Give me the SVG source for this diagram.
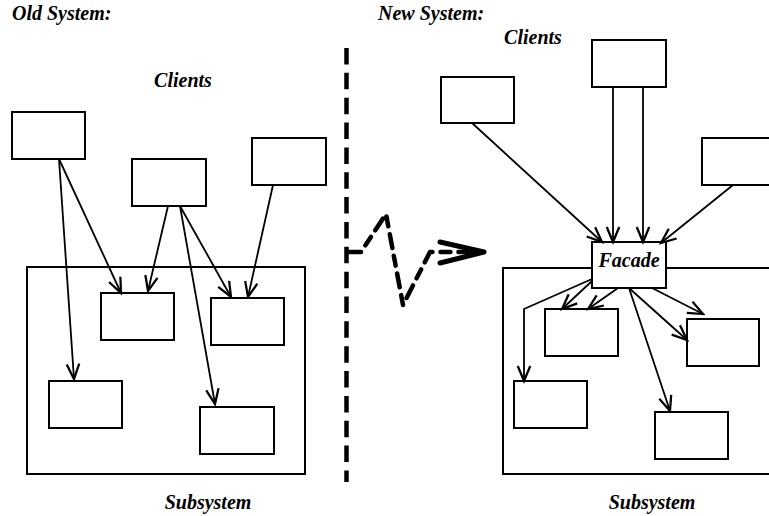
<svg xmlns="http://www.w3.org/2000/svg" width="769" height="516" viewBox="0 0 769 516">
<style>
.box{fill:#fff;stroke:#000;stroke-width:2}
.frame{fill:none;stroke:#000;stroke-width:2}
.t{font-family:"Liberation Serif","Times New Roman",serif;font-weight:bold;font-style:italic;font-size:20px;fill:#000}
.c{fill:none;stroke:#000;stroke-width:1.8;marker-end:url(#arr)}
</style>
<defs>
<marker id="arr" markerUnits="userSpaceOnUse" markerWidth="20" markerHeight="20" viewBox="-14 -7 16 14" refX="0" refY="0" orient="auto">
<path d="M-12,-5 L0,0 L-12,5" fill="none" stroke="#000" stroke-width="1.8"/>
</marker>
</defs>
<rect width="769" height="516" fill="#fff"/>

<text class="t" x="12" y="20">Old System:</text>
<text class="t" x="378" y="20">New System:</text>
<text class="t" x="183" y="87" text-anchor="middle">Clients</text>
<text class="t" x="533" y="44" text-anchor="middle">Clients</text>
<text class="t" x="208" y="509" text-anchor="middle">Subsystem</text>
<text class="t" x="652" y="509" text-anchor="middle">Subsystem</text>

<g id="old-subsystem"><rect class="frame" x="27" y="267" width="278" height="207"/></g>
<g id="new-subsystem"><rect class="frame" x="503" y="268" width="280" height="206"/></g>

<g id="old-client-1"><rect class="box" x="12" y="112" width="73" height="47"/></g>
<g id="old-client-2"><rect class="box" x="132" y="159" width="74" height="47"/></g>
<g id="old-client-3"><rect class="box" x="252" y="138" width="74" height="47"/></g>
<g id="old-sub-a"><rect class="box" x="101" y="293" width="73" height="47"/></g>
<g id="old-sub-b"><rect class="box" x="211" y="298" width="73" height="47"/></g>
<g id="old-sub-c"><rect class="box" x="49" y="381" width="73" height="47"/></g>
<g id="old-sub-d"><rect class="box" x="200" y="407" width="74" height="47"/></g>

<g id="new-client-1"><rect class="box" x="441" y="77" width="73" height="46"/></g>
<g id="new-client-2"><rect class="box" x="592" y="40" width="74" height="47"/></g>
<g id="new-client-3"><rect class="box" x="702" y="138" width="74" height="47"/></g>
<g id="new-sub-a"><rect class="box" x="545" y="309" width="73" height="47"/></g>
<g id="new-sub-b"><rect class="box" x="687" y="319" width="72" height="47"/></g>
<g id="new-sub-c"><rect class="box" x="514" y="381" width="73" height="47"/></g>
<g id="new-sub-d"><rect class="box" x="655" y="412" width="73" height="47"/></g>
<g id="facade"><rect class="box" x="592" y="242" width="74" height="46"/><text class="t" x="629" y="267" text-anchor="middle">Facade</text></g>

<g id="divider">
<line x1="346.5" y1="48" x2="346.5" y2="482" stroke="#000" stroke-width="4.5" stroke-dasharray="16.5 8.35"/>
<path d="M347,252 L361,252 L386,214 L403,305 L430,252 L484,252" fill="none" stroke="#000" stroke-width="4.5" stroke-linecap="round" stroke-linejoin="round" stroke-dasharray="14 8 10 8"/>
<path d="M440,242 L484,252 L440,263" fill="none" stroke="#000" stroke-width="5" stroke-linecap="round" stroke-linejoin="round"/>
</g>

<g id="connectors">
<path class="c" d="M59,159 L121,293"/>
<path class="c" d="M59,159 L74,379"/>
<path class="c" d="M168,206 L148,291"/>
<path class="c" d="M180,206 L231,297"/>
<path class="c" d="M180,206 L215,404"/>
<path class="c" d="M273,185 L248,297"/>

<path class="c" d="M472,123 L602,242"/>
<path class="c" d="M613,87 L613,242"/>
<path class="c" d="M643,87 L643,242"/>
<path class="c" d="M733,185 L661,243"/>
<path class="c" d="M592,279 L524,309 L524,381"/>
<path class="c" d="M592,281 L562,309"/>
<path class="c" d="M618,288 L588,309"/>
<path class="c" d="M652,288 L703,314"/>
<path class="c" d="M629,288 L687,340"/>
<path class="c" d="M629,288 L670,411"/>
</g>
</svg>
